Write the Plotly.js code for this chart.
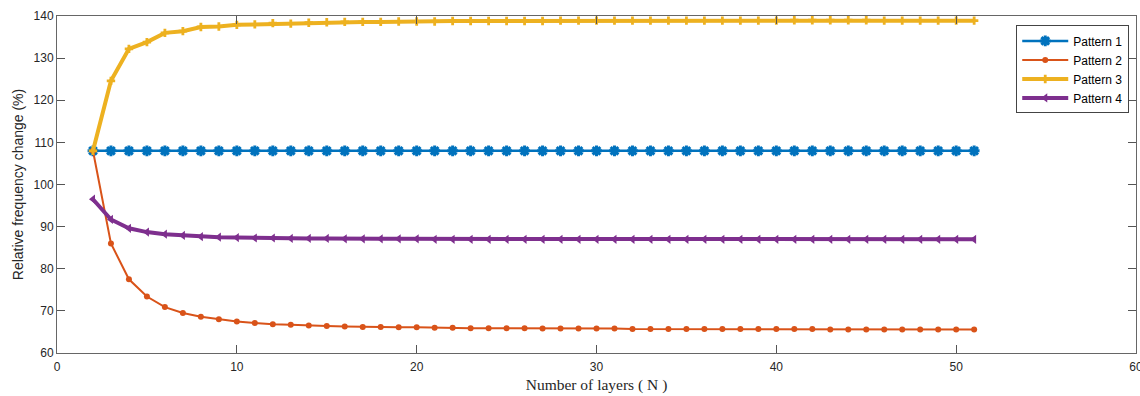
<!DOCTYPE html>
<html>
<head>
<meta charset="utf-8">
<script src="https://cdn.plot.ly/plotly-3.0.1.min.js"></script>
<style>html,body{margin:0;padding:0;background:#fff;}#chart{width:1140px;height:396px;}</style>
</head>
<body>
<div id="chart"></div>
<script>
const layers = [2,3,4,5,6,7,8,9,10,11,12,13,14,15,16,17,18,19,20,21,22,23,24,25,26,27,28,29,30,31,32,33,34,35,36,37,38,39,40,41,42,43,44,45,46,47,48,49,50,51];
const pattern1 = [108.0,108.0,108.0,108.0,108.0,108.0,108.0,108.0,108.0,108.0,108.0,108.0,108.0,108.0,108.0,108.0,108.0,108.0,108.0,108.0,108.0,108.0,108.0,108.0,108.0,108.0,108.0,108.0,108.0,108.0,108.0,108.0,108.0,108.0,108.0,108.0,108.0,108.0,108.0,108.0,108.0,108.0,108.0,108.0,108.0,108.0,108.0,108.0,108.0,108.0];
const pattern2 = [108.0,86.0,77.5,73.4,70.9,69.5,68.6,68.0,67.5,67.1,66.8,66.7,66.5,66.4,66.3,66.2,66.2,66.1,66.1,66.0,66.0,65.9,65.9,65.9,65.9,65.8,65.8,65.8,65.8,65.8,65.7,65.7,65.7,65.7,65.7,65.7,65.7,65.7,65.7,65.7,65.7,65.6,65.6,65.6,65.6,65.6,65.6,65.6,65.6,65.6];
const pattern3 = [108.0,124.6,132.2,133.8,136.0,136.4,137.4,137.5,137.9,138.0,138.3,138.2,138.4,138.5,138.6,138.6,138.6,138.7,138.7,138.7,138.8,138.8,138.8,138.8,138.8,138.8,138.9,138.9,138.9,138.9,138.9,138.9,138.9,138.9,138.9,138.9,138.9,138.9,138.9,139.0,139.0,139.0,139.0,139.0,138.9,138.9,138.9,138.9,138.9,138.9];
const pattern4 = [96.5,91.7,89.6,88.7,88.2,87.9,87.6,87.5,87.4,87.3,87.3,87.2,87.2,87.2,87.1,87.1,87.1,87.1,87.1,87.0,87.0,87.0,87.0,87.0,87.0,87.0,87.0,87.0,87.0,87.0,87.0,87.0,87.0,87.0,87.0,87.0,87.0,87.0,87.0,87.0,87.0,87.0,87.0,87.0,87.0,87.0,87.0,87.0,87.0,87.0];
const seriesNames = ['Pattern 1','Pattern 2','Pattern 3','Pattern 4'];
const xTicks = [0,10,20,30,40,50,60];
const yTicks = [60,70,80,90,100,110,120,130,140];

const traces = [
  {x: layers, y: pattern1, name: seriesNames[0], mode: 'lines+markers',
   line: {color: '#0072BD', width: 2.5},
   marker: {symbol: 'asterisk-open', size: 9, color: '#0072BD', line: {color: '#0072BD', width: 3}}},
  {x: layers, y: pattern2, name: seriesNames[1], mode: 'lines+markers',
   line: {color: '#D95319', width: 2},
   marker: {symbol: 'circle', size: 6, color: '#D95319'}},
  {x: layers, y: pattern3, name: seriesNames[2], mode: 'lines+markers',
   line: {color: '#EDB120', width: 4},
   marker: {symbol: 'cross', size: 7, color: '#EDB120'}},
  {x: layers, y: pattern4, name: seriesNames[3], mode: 'lines+markers',
   line: {color: '#7E2F8E', width: 4},
   marker: {symbol: 'triangle-left', size: 8, color: '#7E2F8E'}}
];

const axisCommon = {
  showline: true, linecolor: '#666666', linewidth: 1, mirror: 'allticks',
  ticks: 'inside', ticklen: 8, tickcolor: '#555555', tickwidth: 1,
  showgrid: false, zeroline: false,
  tickfont: {family: 'Liberation Sans, Arial, sans-serif', size: 12, color: '#262626'}
};

const layout = {
  width: 1140, height: 396,
  margin: {l: 57, r: 4, t: 16, b: 43},
  paper_bgcolor: '#ffffff', plot_bgcolor: '#ffffff',
  showlegend: true,
  xaxis: Object.assign({}, axisCommon, {
    range: [0, 60], tickvals: xTicks, ticktext: xTicks.map(String),
    ticklabeloverflow: 'allow', ticklabelstandoff: 3,
    title: {text: 'Number of layers ( N )', standoff: 5,
      font: {family: 'Liberation Serif, Times New Roman, serif', size: 15.5, color: '#262626'}}
  }),
  yaxis: Object.assign({}, axisCommon, {
    range: [60, 140], tickvals: yTicks, ticktext: yTicks.map(String),
    title: {text: 'Relative frequency change (%)', standoff: 6,
      font: {family: 'Liberation Sans, Arial, sans-serif', size: 14, color: '#262626'}}
  }),
  legend: {
    x: 0.889, y: 0.972, xanchor: 'left', yanchor: 'top',
    bgcolor: '#ffffff', bordercolor: '#444444', borderwidth: 1,
    font: {family: 'Liberation Sans, Arial, sans-serif', size: 12, color: '#000000'},
    itemwidth: 46, tracegroupgap: 0
  }
};

Plotly.newPlot('chart', traces, layout, {staticPlot: true, displayModeBar: false});
</script>
</body>
</html>
